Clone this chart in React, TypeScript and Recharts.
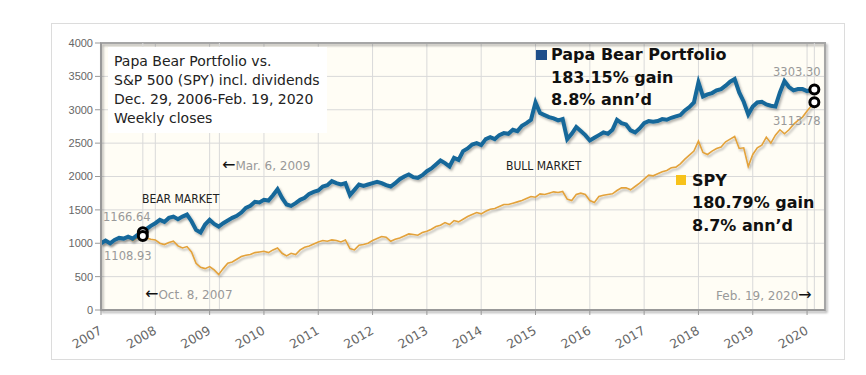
import {
  CartesianGrid,
  Line,
  LineChart,
  ReferenceArea,
  ReferenceDot,
  ReferenceLine,
  XAxis,
  YAxis,
} from "recharts";

// monthly closes, growth of $1000 from Dec. 29, 2006 (one row per year)
const startYear = 2007;
const lastDate = 2020.134; // Feb. 19, 2020

const papaBear = [
  [1000, 1040, 1000, 1050, 1080, 1070, 1100, 1070, 1120, 1166.64, 1210, 1260],
  [1300, 1350, 1320, 1380, 1400, 1360, 1400, 1430, 1330, 1200, 1160, 1280],
  [1350, 1290, 1250, 1300, 1340, 1380, 1410, 1460, 1530, 1560, 1620, 1610],
  [1650, 1640, 1720, 1810, 1680, 1580, 1560, 1600, 1650, 1680, 1740, 1770],
  [1790, 1850, 1870, 1930, 1900, 1880, 1900, 1720, 1800, 1880, 1860, 1880],
  [1900, 1920, 1900, 1870, 1850, 1900, 1960, 2000, 2030, 1990, 1980, 2020],
  [2080, 2120, 2180, 2240, 2200, 2150, 2280, 2250, 2380, 2420, 2480, 2500],
  [2470, 2560, 2590, 2560, 2620, 2650, 2640, 2700, 2680, 2760, 2800, 2850],
  [3110, 2950, 2920, 2890, 2870, 2840, 2860, 2560, 2640, 2740, 2680, 2620],
  [2540, 2580, 2620, 2660, 2640, 2700, 2850, 2800, 2780, 2690, 2660, 2720],
  [2800, 2830, 2820, 2830, 2860, 2850, 2880, 2900, 2920, 2990, 3040, 3110],
  [3410, 3200, 3230, 3250, 3290, 3310, 3360, 3420, 3460, 3260, 3120, 2930],
  [3050, 3110, 3120, 3080, 3060, 3050, 3260, 3430, 3340, 3290, 3310, 3310],
  [3280, 3303.3],
];

const spy = [
  [1000, 1020, 990, 1040, 1070, 1060, 1090, 1040, 1080, 1108.93, 1080, 1060],
  [1050, 1000, 980, 1010, 1030, 960, 930, 950, 870, 700, 640, 620],
  [650, 600, 530, 620, 700, 720, 760, 800, 820, 830, 860, 870],
  [880, 860, 900, 930, 850, 810, 850, 830, 900, 940, 960, 990],
  [1020, 1040, 1030, 1050, 1040, 1020, 1050, 920, 900, 970, 980, 1000],
  [1040, 1070, 1100, 1090, 1030, 1060, 1080, 1110, 1140, 1130, 1120, 1160],
  [1180, 1210, 1250, 1270, 1310, 1280, 1340, 1320, 1360, 1400, 1430, 1460],
  [1440, 1480, 1510, 1520, 1550, 1580, 1580, 1600, 1620, 1640, 1670, 1700],
  [1690, 1740, 1730, 1750, 1770, 1760, 1775, 1660, 1640, 1730, 1750, 1730],
  [1640, 1610, 1700, 1720, 1730, 1740, 1790, 1830, 1830, 1800, 1850, 1900],
  [1960, 2020, 2010, 2040, 2070, 2090, 2130, 2140, 2190, 2260, 2320, 2380],
  [2530, 2360, 2330, 2380, 2420, 2440, 2520, 2560, 2600, 2420, 2430, 2150],
  [2330, 2430, 2470, 2590, 2500, 2620, 2700, 2640, 2700, 2780, 2840, 2890],
  [2980, 3113.78],
];

const yearTicks = [
  2007, 2008, 2009, 2010, 2011, 2012, 2013, 2014, 2015, 2016, 2017, 2018,
  2019, 2020,
];
const valueTicks = [0, 500, 1000, 1500, 2000, 2500, 3000, 3500, 4000];

// Oct. 8, 2007 / Mar. 6, 2009 / Feb. 19, 2020
const eventDates = [2007.77, 2009.18, lastDate];

const markers = [
  { date: 2007.77, papa: 1166.64, spy: 1108.93 },
  { date: lastDate, papa: 3303.3, spy: 3113.78 },
];

const data = papaBear.flatMap((row, yi) =>
  row.map((v, m) => ({
    date: startYear + yi + m / 12,
    papa: v,
    spy: spy[yi][m],
  }))
);
data[data.length - 1].date = lastDate;

const sans = "'DejaVu Sans', Verdana, sans-serif";
const condensed = "'DejaVu Sans Condensed', 'DejaVu Sans', sans-serif";

function YearTick(props: any) {
  const { x, y, payload } = props;
  const ax = x + 2;
  const ay = y + 16;
  return (
    <text
      x={ax}
      y={ay}
      textAnchor="end"
      transform={`rotate(-30 ${ax} ${ay})`}
      fill="#666"
      fontSize={12.5}
      fontFamily={sans}
    >
      {payload.value}
    </text>
  );
}

function Note(props: any) {
  const { x, cy, size = 12, color = "#999", font = sans, bold, children } =
    props;
  return (
    <div
      style={{
        position: "absolute",
        left: x,
        top: cy - 10,
        height: 20,
        lineHeight: "20px",
        fontSize: size,
        color,
        fontFamily: font,
        fontWeight: bold ? "bold" : "normal",
        whiteSpace: "nowrap",
      }}
    >
      {children}
    </div>
  );
}

const arrow = { color: "#111", fontSize: 16 };

export default function App() {
  return (
    <div
      style={{
        position: "absolute",
        left: 0,
        top: 0,
        width: 866,
        height: 375,
        background: "#fff",
      }}
    >
      <div
        style={{
          position: "absolute",
          left: 51,
          top: 23,
          width: 792,
          height: 335,
          border: "1px solid #dcdcdc",
        }}
      />
      <div style={{ position: "absolute", left: 0, top: 0 }}>
        <LineChart
          width={866}
          height={375}
          data={data}
          margin={{ top: 43, right: 41, left: 51, bottom: 25 }}
        >
          <defs>
            <filter id="shadow" x="-5%" y="-5%" width="110%" height="120%">
              <feDropShadow
                dx="1.5"
                dy="2"
                stdDeviation="1"
                floodColor="#000"
                floodOpacity="0.3"
              />
            </filter>
          </defs>
          <CartesianGrid stroke="#d9d9d9" fill="#fffdf5" />
          {eventDates.map((d) => (
            <ReferenceLine key={d} x={d} stroke="#d9d9d9" />
          ))}
          <XAxis
            type="number"
            dataKey="date"
            domain={[2007, 2020.33]}
            ticks={yearTicks}
            allowDataOverflow
            height={40}
            tick={<YearTick />}
            tickSize={5}
            tickLine={{ stroke: "#999" }}
            axisLine={{ stroke: "#999", strokeWidth: 2 }}
          />
          <YAxis
            type="number"
            domain={[0, 4000]}
            ticks={valueTicks}
            width={50}
            tickSize={6}
            tick={{ fill: "#666", fontSize: 11, fontFamily: "'Liberation Sans', Arial" }}
            tickLine={{ stroke: "#999" }}
            axisLine={{ stroke: "#999", strokeWidth: 2 }}
          />
          <ReferenceArea
            x1={2007}
            x2={2020.33}
            y1={0}
            y2={4000}
            fill="none"
            stroke="#a6a6a6"
            strokeWidth={2}
            filter="url(#shadow)"
          />
          <Line
            dataKey="spy"
            type="linear"
            stroke="#e3a23b"
            strokeWidth={1.6}
            dot={false}
            filter="url(#shadow)"
            isAnimationActive={false}
          />
          <Line
            dataKey="papa"
            type="linear"
            stroke="#17689a"
            strokeWidth={4}
            dot={false}
            filter="url(#shadow)"
            isAnimationActive={false}
          />
          {markers.flatMap((m) => [
            <ReferenceDot
              key={m.date + "p"}
              x={m.date}
              y={m.papa}
              r={4.5}
              fill="#fff"
              stroke="#000"
              strokeWidth={3}
              ifOverflow="visible"
            />,
            <ReferenceDot
              key={m.date + "s"}
              x={m.date}
              y={m.spy}
              r={4.5}
              fill="#fff"
              stroke="#000"
              strokeWidth={3}
              ifOverflow="visible"
            />,
          ])}
        </LineChart>
      </div>

      <div
        style={{
          position: "absolute",
          left: 108,
          top: 47,
          width: 219,
          height: 86,
          background: "#fff",
          fontFamily: sans,
          fontSize: 14,
          color: "#222",
          lineHeight: "19px",
          padding: "5px 0 0 6px",
          boxSizing: "border-box",
          whiteSpace: "nowrap",
        }}
      >
        <div>Papa Bear Portfolio vs.</div>
        <div>S&amp;P 500 (SPY) incl. dividends</div>
        <div>Dec. 29, 2006-Feb. 19, 2020</div>
        <div>Weekly closes</div>
      </div>

      <div
        style={{
          position: "absolute",
          left: 536,
          top: 50,
          width: 11,
          height: 10,
          background: "#1f4f8a",
        }}
      />
      <Note x={551} cy={55} size={16} color="#111" bold>
        Papa Bear Portfolio
      </Note>
      <Note x={551} cy={78} size={16} color="#111" bold>
        183.15% gain
      </Note>
      <Note x={551} cy={100} size={16} color="#111" bold>
        8.8% ann’d
      </Note>

      <div
        style={{
          position: "absolute",
          left: 676,
          top: 175,
          width: 10,
          height: 10,
          background: "#f7c21a",
        }}
      />
      <Note x={692} cy={181} size={16} color="#111" bold>
        SPY
      </Note>
      <Note x={692} cy={203} size={16} color="#111" bold>
        180.79% gain
      </Note>
      <Note x={692} cy={226} size={16} color="#111" bold>
        8.7% ann’d
      </Note>

      <Note x={142} cy={199} size={12} color="#222" font={condensed}>
        BEAR MARKET
      </Note>
      <Note x={506} cy={166} size={12} color="#222" font={condensed}>
        BULL MARKET
      </Note>

      <Note x={103} cy={217} size={11.5}>1166.64</Note>
      <Note x={104} cy={256} size={11.5}>1108.93</Note>
      <Note x={773} cy={72} size={11.5}>3303.30</Note>
      <Note x={773} cy={121} size={11.5}>3113.78</Note>

      <Note x={222} cy={165} size={12}>
        <span style={arrow}>←</span>Mar. 6, 2009
      </Note>
      <Note x={145} cy={294} size={12}>
        <span style={arrow}>←</span>Oct. 8, 2007
      </Note>
      <Note x={716} cy={295} size={12}>
        Feb. 19, 2020<span style={arrow}>→</span>
      </Note>
    </div>
  );
}
